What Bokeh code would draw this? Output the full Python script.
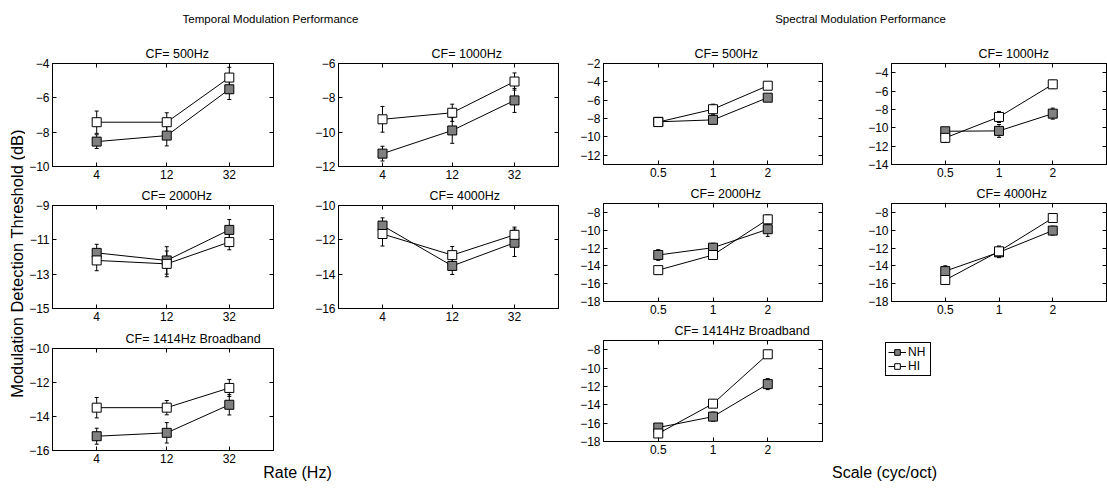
import math
import numpy as np
from bokeh.plotting import figure
from bokeh.layouts import row, column, Spacer
from bokeh.models import (Range1d, FixedTicker, LinearAxis, LogAxis, Whisker, TeeHead,
                          ColumnDataSource, CustomJSTickFormatter, Legend, LegendItem)
from bokeh.core.properties import value
from bokeh.embed import file_html
from bokeh.resources import INLINE

FONT = "Liberation Sans"

# ---------------- data ----------------
rate = [4, 12, 32]
scale = [0.5, 1, 2]

tm_nh_500 = [-8.55, -8.2, -5.5]
tm_nh_500_err = [0.4, 0.6, 0.6]
tm_hi_500 = [-7.42, -7.42, -4.82]
tm_hi_500_err = [0.65, 0.55, 0.6]

tm_nh_1000 = [-11.25, -9.9, -8.15]
tm_nh_1000_err = [0.43, 0.75, 0.7]
tm_hi_1000 = [-9.25, -8.87, -7.05]
tm_hi_1000_err = [0.75, 0.5, 0.5]

tm_nh_2000 = [-11.76, -12.2, -10.42]
tm_nh_2000_err = [0.5, 0.8, 0.6]
tm_hi_2000 = [-12.2, -12.4, -11.13]
tm_hi_2000_err = [0.6, 0.75, 0.45]

tm_nh_4000 = [-11.17, -13.52, -12.17]
tm_nh_4000_err = [0.45, 0.5, 0.8]
tm_hi_4000 = [-11.66, -12.89, -11.71]
tm_hi_4000_err = [0.7, 0.5, 0.45]

tm_nh_1414 = [-15.16, -14.96, -13.31]
tm_nh_1414_err = [0.47, 0.6, 0.6]
tm_hi_1414 = [-13.48, -13.48, -12.32]
tm_hi_1414_err = [0.6, 0.42, 0.5]

sm_nh_500 = [-8.35, -8.14, -5.72]
sm_nh_500_err = [0.3, 0.4, 0.35]
sm_hi_500 = [-8.38, -6.98, -4.42]
sm_hi_500_err = [0.3, 0.55, 0.3]

sm_nh_1000 = [-10.38, -10.34, -8.46]
sm_nh_1000_err = [0.4, 0.7, 0.6]
sm_hi_1000 = [-11.1, -8.82, -5.27]
sm_hi_1000_err = [0.5, 0.6, 0.45]

sm_nh_2000 = [-12.78, -11.96, -9.89]
sm_nh_2000_err = [0.6, 0.5, 0.8]
sm_hi_2000 = [-14.48, -12.78, -8.78]
sm_hi_2000_err = [0.3, 0.4, 0.5]

sm_nh_4000 = [-14.59, -12.48, -10.04]
sm_nh_4000_err = [0.6, 0.6, 0.5]
sm_hi_4000 = [-15.59, -12.37, -8.63]
sm_hi_4000_err = [0.4, 0.6, 0.3]

sm_nh_1414 = [-16.48, -15.29, -11.75]
sm_nh_1414_err = [0.4, 0.5, 0.6]
sm_hi_1414 = [-17.13, -13.88, -8.5]
sm_hi_1414_err = [0.3, 0.4, 0.35]

series_labels = ["NH", "HI"]

NH_COLOR = "#808080"
HI_COLOR = "#ffffff"


def style_axis(ax, show_labels=True):
    ax.major_tick_in = 4
    ax.major_tick_out = 0
    ax.minor_tick_in = 0
    ax.minor_tick_out = 0
    ax.axis_line_color = "black"
    ax.major_tick_line_color = "black"
    ax.major_label_text_font = FONT
    ax.major_label_text_font_size = "12px"
    ax.major_label_text_color = "black"
    ax.major_label_standoff = 3
    if not show_labels:
        ax.formatter = CustomJSTickFormatter(code="return ''")
        ax.major_label_standoff = 0


def panel(title, toff, xs, xr, nh, nh_e, hi, hi_e, yr, yticks, fw, fh, bl, br, bt, bb):
    p = figure(x_axis_type="log", x_range=Range1d(*xr), y_range=Range1d(*yr),
               frame_width=fw, frame_height=fh,
               min_border_left=bl, min_border_right=br, min_border_top=bt, min_border_bottom=bb,
               output_backend="svg", toolbar_location=None, title=title)
    p.title.text_font = FONT
    p.title.text_font_size = "12.5px"
    p.title.text_font_style = "normal"
    p.title.text_color = "black"
    p.title.align = "left"
    p.title.offset = toff
    p.title.standoff = 5
    p.xgrid.visible = False
    p.ygrid.visible = False
    p.outline_line_color = "black"
    p.outline_line_alpha = 1
    p.background_fill_color = "white"
    p.border_fill_color = "white"

    p.xaxis.ticker = FixedTicker(ticks=list(xs))
    p.xaxis.formatter = CustomJSTickFormatter(code="return String(tick)")
    p.yaxis.ticker = FixedTicker(ticks=list(yticks))
    for ax in p.xaxis + p.yaxis:
        style_axis(ax)
    top = LogAxis(ticker=FixedTicker(ticks=list(xs)))
    style_axis(top, False)
    right = LinearAxis(ticker=FixedTicker(ticks=list(yticks)))
    style_axis(right, False)
    p.add_layout(top, "above")
    p.add_layout(right, "right")

    for ys, es, col in ((nh, nh_e, NH_COLOR), (hi, hi_e, HI_COLOR)):
        src = ColumnDataSource(dict(x=list(xs), y=list(ys),
                                    upper=[a + b for a, b in zip(ys, es)],
                                    lower=[a - b for a, b in zip(ys, es)]))
        w = Whisker(source=src, base="x", upper="upper", lower="lower",
                    line_color="black", line_width=1,
                    upper_head=TeeHead(size=4, line_color="black", line_width=1),
                    lower_head=TeeHead(size=4, line_color="black", line_width=1),
                    level="underlay")
        p.add_layout(w)
        p.line("x", "y", source=src, line_color="black", line_width=1)
        p.scatter("x", "y", source=src, marker="square", size=9,
                  fill_color=col, line_color="black", line_width=1)
    return p


def text_fig(w, h, items):
    p = figure(width=w, height=h, x_range=Range1d(0, w), y_range=Range1d(0, h),
               min_border=0, x_axis_location=None, y_axis_location=None,
               output_backend="svg", toolbar_location=None)
    p.xgrid.visible = False
    p.ygrid.visible = False
    p.outline_line_color = None
    for (x, y, t, size, ang) in items:
        p.text(x=[x], y=[y], text=[t], text_align="center", text_baseline="middle",
               text_font=value(FONT), text_font_size=size, text_color="black", angle=ang)
    return p


TX = (2, 64)
SX = (0.25, 4)

# temporal column 1
t1 = panel("CF= 500Hz", 93, rate, TX, tm_nh_500, tm_nh_500_err, tm_hi_500, tm_hi_500_err,
           (-10, -4), [-10, -8, -6, -4], 221, 103, 27, 10, 24, 15)
t3 = panel("CF= 2000Hz", 89, rate, TX, tm_nh_2000, tm_nh_2000_err, tm_hi_2000, tm_hi_2000_err,
           (-15, -9), [-15, -13, -11, -9], 221, 103, 27, 10, 24, 15)
t5 = panel("CF= 1414Hz Broadband", 73, rate, TX, tm_nh_1414, tm_nh_1414_err, tm_hi_1414, tm_hi_1414_err,
           (-16, -10), [-16, -14, -12, -10], 221, 102, 27, 10, 25, 15)
# temporal column 2
t2 = panel("CF= 1000Hz", 93, rate, TX, tm_nh_1000, tm_nh_1000_err, tm_hi_1000, tm_hi_1000_err,
           (-12, -6), [-12, -10, -8, -6], 220, 103, 55, 10, 24, 15)
t4 = panel("CF= 4000Hz", 91, rate, TX, tm_nh_4000, tm_nh_4000_err, tm_hi_4000, tm_hi_4000_err,
           (-16, -10), [-16, -14, -12, -10], 220, 103, 55, 10, 24, 15)

# spectral column 3
s1 = panel("CF= 500Hz", 91, scale, SX, sm_nh_500, sm_nh_500_err, sm_hi_500, sm_hi_500_err,
           (-13, -2), [-12, -10, -8, -6, -4, -2], 219, 101, 35, 10, 24, 15)
s3 = panel("CF= 2000Hz", 87, scale, SX, sm_nh_2000, sm_nh_2000_err, sm_hi_2000, sm_hi_2000_err,
           (-18, -7), [-18, -16, -14, -12, -10, -8], 219, 98, 35, 10, 24, 15)
s5 = panel("CF= 1414Hz Broadband", 71, scale, SX, sm_nh_1414, sm_nh_1414_err, sm_hi_1414, sm_hi_1414_err,
           (-18, -7), [-18, -16, -14, -12, -10, -8], 219, 101, 35, 10, 24, 24)
# spectral column 4
s2 = panel("CF= 1000Hz", 87, scale, SX, sm_nh_1000, sm_nh_1000_err, sm_hi_1000, sm_hi_1000_err,
           (-14, -3), [-14, -12, -10, -8, -6, -4], 215, 101, 59, 1, 24, 15)
s4 = panel("CF= 4000Hz", 85, scale, SX, sm_nh_4000, sm_nh_4000_err, sm_hi_4000, sm_hi_4000_err,
           (-18, -7), [-18, -16, -14, -12, -10, -8], 215, 98, 59, 1, 24, 15)

# legend figure (placeholder renderers hold a single NaN so only the key is drawn)
lg = figure(width=222, height=149, x_range=Range1d(0, 1), y_range=Range1d(0, 1),
            min_border_left=0, min_border_top=26, min_border_right=0, min_border_bottom=0,
            x_axis_location=None, y_axis_location=None,
            output_backend="svg", toolbar_location=None)
lg.xgrid.visible = False
lg.ygrid.visible = False
lg.outline_line_color = None
nan = np.array([np.nan])
items = []
for lab, col in zip(series_labels, (NH_COLOR, HI_COLOR)):
    rl = lg.line(nan, nan, line_color="black", line_width=1)
    rm = lg.scatter(nan, nan, marker="square", size=8, fill_color=col, line_color="black")
    items.append(LegendItem(label=lab, renderers=[rl, rm]))
leg = Legend(items=items, location="top_left")
leg.border_line_color = "black"
leg.border_line_alpha = 1
leg.border_line_width = 1
leg.padding = 2
leg.spacing = 0
leg.margin = 0
leg.glyph_width = 18
leg.glyph_height = 14
leg.label_height = 14
leg.label_standoff = 2
leg.label_text_font = FONT
leg.label_text_font_size = "12px"
leg.label_text_color = "black"
leg.label_text_baseline = "middle"
lg.add_layout(leg, "center")
lgrow = row(Spacer(width=53, height=149), lg)

ylab = text_fig(25, 488, [(16, 225, "Modulation Detection Threshold (dB)", "16.5px", math.pi / 2)])
ttitle = text_fig(543, 39, [(245, 21, "Temporal Modulation Performance", "11.5px", 0)])
stitle = text_fig(539, 39, [(292, 21, "Spectral Modulation Performance", "11.5px", 0)])
tx = text_fig(543, 23, [(272, 16, "Rate (Hz)", "16px", 0)])
sx = text_fig(539, 23, [(316, 16, "Scale (cyc/oct)", "16px", 0)])

temporal = column(ttitle, row(column(t1, t3, t5), column(t2, t4)), tx)
spectral = column(stitle, row(column(s1, s3, s5), column(s2, s4, lgrow)), sx)
layout = row(ylab, temporal, spectral)

open("out.html", "w").write(file_html(layout, INLINE))
